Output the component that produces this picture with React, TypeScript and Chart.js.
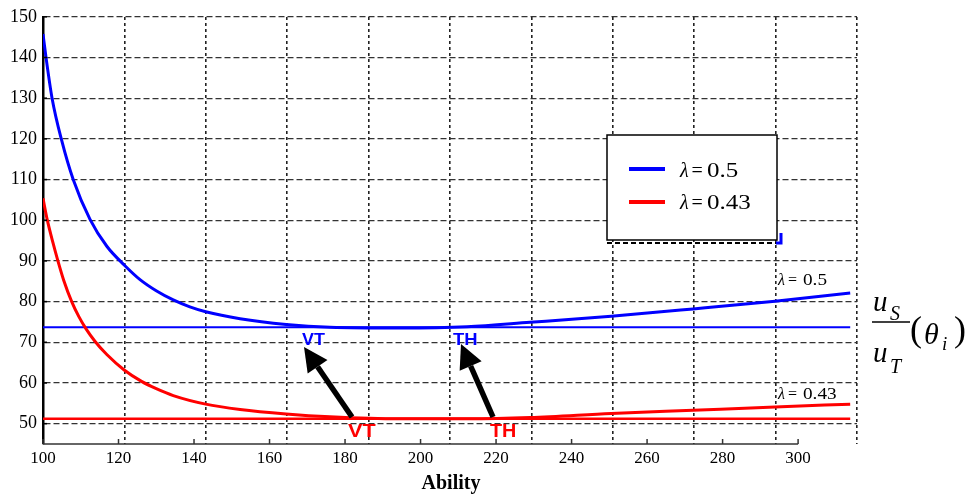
import React, { useEffect, useRef } from 'react';
import { Chart, registerables } from 'chart.js';

Chart.register(...registerables);

// ---- data ----
const abilityBlue = [100, 100.8, 102.4, 104.95, 108.0, 112.45, 116.9, 121.5, 125.7, 130.1, 134.5, 138.9, 143.1, 152.2, 164.4, 176.0, 194.6, 212.3, 229.0, 250.5, 272.2, 293.9, 313.8];
const ratioBlue = [145.8, 140, 130, 119.6, 110.0, 100.2, 93.6, 89.0, 85.4, 82.6, 80.4, 78.7, 77.5, 75.8, 74.4, 73.7, 73.5, 73.8, 74.9, 76.4, 78.2, 80.1, 82.1];
const abilityRed = [100, 101.1, 102.6, 103.8, 105.5, 107.6, 109.5, 111.4, 113.8, 116.9, 121.5, 126.1, 130.0, 134.5, 143.1, 152.2, 164.4, 176.0, 194.6, 212.3, 229.0, 250.5, 272.2, 293.9, 313.8];
const ratioRed = [105.4, 100.2, 94.6, 90.5, 85.2, 80.0, 76.3, 73.3, 70.2, 67.0, 63.2, 60.4, 58.6, 56.9, 54.8, 53.5, 52.4, 51.7, 51.2, 51.2, 51.5, 52.5, 53.3, 54.1, 54.8];
const minBlue = 73.7;
const minRed = 51.2;
const lineRange = [100, 313.8];
const xTickValues = [100, 120, 140, 160, 180, 200, 220, 240, 260, 280, 300];
const yTickValues = [50, 60, 70, 80, 90, 100, 110, 120, 130, 140, 150];
const lambdaValues = ['0.5', '0.43'];
const markerLabels = ['VT', 'TH'];
const xAxisTitle = 'Ability';

const BLUE = '#0000ff';
const RED = '#ff0000';
const SERIF = '"Liberation Serif", "Times New Roman", serif';
const SANS = '"Liberation Sans", Arial, sans-serif';

function drawLambda(ctx: CanvasRenderingContext2D, x: number, xEq: number, xNum: number, y: number, size: number, sx: number, num: string) {
  ctx.save();
  ctx.fillStyle = '#000';
  ctx.textBaseline = 'alphabetic';
  ctx.textAlign = 'left';
  ctx.font = `italic ${size}px ${SERIF}`;
  ctx.fillText('λ', x, y);
  ctx.font = `${size}px ${SERIF}`;
  ctx.fillText('=', xEq, y);
  ctx.save(); ctx.translate(xNum, y); ctx.scale(sx, 1); ctx.fillText(num, 0, 0); ctx.restore();
  ctx.restore();
}

function drawArrow(ctx: CanvasRenderingContext2D, x1: number, y1: number, x2: number, y2: number) {
  const ang = Math.atan2(y2 - y1, x2 - x1);
  const headLen = 24;
  const headHalf = 12;
  const bx = x2 - headLen * Math.cos(ang);
  const by = y2 - headLen * Math.sin(ang);
  ctx.save();
  ctx.strokeStyle = '#000';
  ctx.fillStyle = '#000';
  ctx.lineWidth = 5.5;
  ctx.beginPath();
  ctx.moveTo(x1, y1);
  ctx.lineTo(bx, by);
  ctx.stroke();
  ctx.beginPath();
  ctx.moveTo(x2, y2);
  ctx.lineTo(bx + headHalf * Math.sin(ang), by - headHalf * Math.cos(ang));
  ctx.lineTo(bx - headHalf * Math.sin(ang), by + headHalf * Math.cos(ang));
  ctx.closePath();
  ctx.fill();
  ctx.restore();
}

function drawBoldLabel(ctx: CanvasRenderingContext2D, text: string, x: number, y: number, size: number, sx: number, color: string) {
  ctx.save();
  ctx.fillStyle = color;
  ctx.font = `bold ${size}px ${SANS}`;
  ctx.textAlign = 'left';
  ctx.textBaseline = 'alphabetic';
  ctx.translate(x, y);
  ctx.scale(sx, 1);
  ctx.fillText(text, 0, 0);
  ctx.restore();
}

const overlayPlugin = {
  id: 'overlay',
  afterDraw(chart: any) {
    const ctx: CanvasRenderingContext2D = chart.ctx;
    const xs = chart.scales.x;
    const ys = chart.scales.y;
    const area = chart.chartArea;

    // x axis line + inward ticks
    ctx.save();
    ctx.strokeStyle = '#333';
    ctx.lineWidth = 1.5;
    ctx.beginPath();
    ctx.moveTo(xs.getPixelForValue(xTickValues[0]), area.bottom);
    ctx.lineTo(xs.getPixelForValue(xTickValues[xTickValues.length - 1]), area.bottom);
    ctx.stroke();
    xTickValues.forEach((v) => {
      const px = xs.getPixelForValue(v);
      ctx.beginPath();
      ctx.moveTo(px, area.bottom);
      ctx.lineTo(px, area.bottom - 5);
      ctx.stroke();
    });
    ctx.strokeStyle = '#000';
    yTickValues.forEach((v) => {
      const py = ys.getPixelForValue(v);
      ctx.beginPath();
      ctx.moveTo(area.left, py);
      ctx.lineTo(area.left + 4, py);
      ctx.stroke();
    });
    ctx.restore();

    // legend box
    ctx.save();
    ctx.fillStyle = '#fff';
    ctx.fillRect(607, 135, 170, 105);
    ctx.strokeStyle = '#000';
    ctx.lineWidth = 1.5;
    ctx.strokeRect(607, 135, 170, 105);
    ctx.setLineDash([5, 3]);
    ctx.lineWidth = 2;
    ctx.beginPath();
    ctx.moveTo(607, 243);
    ctx.lineTo(777, 243);
    ctx.stroke();
    ctx.setLineDash([]);
    ctx.strokeStyle = BLUE;
    ctx.lineWidth = 3;
    ctx.beginPath();
    ctx.moveTo(781, 233);
    ctx.lineTo(781, 243);
    ctx.lineTo(776, 243);
    ctx.stroke();
    const legendColors = [chart.data.datasets[0].borderColor, chart.data.datasets[1].borderColor];
    const rowY = [169, 202];
    const textY = [177, 209];
    legendColors.forEach((c: string, i: number) => {
      ctx.strokeStyle = c;
      ctx.lineWidth = 4;
      ctx.beginPath();
      ctx.moveTo(629, rowY[i]);
      ctx.lineTo(665, rowY[i]);
      ctx.stroke();
      drawLambda(ctx, 680, 691.5, 707, textY[i], 20, 1.25, lambdaValues[i]);
    });
    ctx.restore();

    // curve annotations
    drawLambda(ctx, 778, 788, 803, 285, 16, 1.2, lambdaValues[0]);
    drawLambda(ctx, 778, 788, 803, 399, 16, 1.2, lambdaValues[1]);

    // VT / TH labels
    drawBoldLabel(ctx, markerLabels[0], 302, 345, 16, 1.12, BLUE);
    drawBoldLabel(ctx, markerLabels[1], 453, 345, 16, 1.15, BLUE);
    drawBoldLabel(ctx, markerLabels[0], 348, 437, 18, 1.2, RED);
    drawBoldLabel(ctx, markerLabels[1], 490, 437, 18, 1.1, RED);

    // arrows
    drawArrow(ctx, 352, 417, 304, 347);
    drawArrow(ctx, 493, 417, 461, 344);

    // right-hand label  u_S / u_T (θ_i)
    ctx.save();
    ctx.fillStyle = '#000';
    ctx.textAlign = 'left';
    ctx.textBaseline = 'alphabetic';
    ctx.font = `italic 29px ${SERIF}`;
    ctx.fillText('u', 873, 311);
    ctx.fillText('u', 873, 362);
    ctx.font = `italic 20px ${SERIF}`;
    ctx.fillText('S', 890, 320);
    ctx.fillText('T', 890, 373);
    ctx.strokeStyle = '#000';
    ctx.lineWidth = 1.5;
    ctx.beginPath();
    ctx.moveTo(872, 322);
    ctx.lineTo(910, 322);
    ctx.stroke();
    ctx.font = `36px ${SERIF}`;
    ctx.fillText('(', 910, 341);
    ctx.fillText(')', 954, 341);
    ctx.font = `italic 30px ${SERIF}`;
    ctx.fillText('θ', 924, 344);
    ctx.font = `italic 19px ${SERIF}`;
    ctx.fillText('i', 942, 350);
    ctx.restore();

    // x axis title
    ctx.save();
    ctx.fillStyle = '#000';
    ctx.font = `bold 20px ${SERIF}`;
    ctx.textAlign = 'center';
    ctx.textBaseline = 'alphabetic';
    ctx.fillText(xAxisTitle, (area.left + area.right) / 2 + 1, 489);
    ctx.restore();
  },
};

export default function App() {
  const canvasRef = useRef<HTMLCanvasElement | null>(null);

  useEffect(() => {
    const canvas = canvasRef.current;
    if (!canvas) return;
    const toPts = (xs: number[], ys: number[]) => xs.map((x, i) => ({ x, y: ys[i] }));
    const chart = new Chart(canvas, {
      type: 'line',
      data: {
        datasets: [
          {
            label: 'λ = ' + lambdaValues[0],
            data: toPts(abilityBlue, ratioBlue),
            borderColor: BLUE,
            borderWidth: 3,
            pointRadius: 0,
            cubicInterpolationMode: 'monotone',
            xAxisID: 'x',
            yAxisID: 'y',
          },
          {
            label: 'λ = ' + lambdaValues[1],
            data: toPts(abilityRed, ratioRed),
            borderColor: RED,
            borderWidth: 3,
            pointRadius: 0,
            cubicInterpolationMode: 'monotone',
            xAxisID: 'x',
            yAxisID: 'y',
          },
          {
            label: 'min blue',
            data: toPts(lineRange, [minBlue, minBlue]),
            borderColor: BLUE,
            borderWidth: 2,
            pointRadius: 0,
            xAxisID: 'x',
            yAxisID: 'y',
          },
          {
            label: 'min red',
            data: toPts(lineRange, [minRed, minRed]),
            borderColor: RED,
            borderWidth: 2.5,
            pointRadius: 0,
            xAxisID: 'x',
            yAxisID: 'y',
          },
        ],
      },
      options: {
        responsive: false,
        animation: false,
        events: [],
        layout: { padding: { top: 16, right: 115, left: 0, bottom: 0 } },
        plugins: { legend: { display: false }, tooltip: { enabled: false }, title: { display: false } },
        scales: {
          x: {
            type: 'linear',
            position: 'bottom',
            min: 100,
            max: 315.6,
            grid: { display: false, drawTicks: false },
            border: { display: false },
            ticks: {
              stepSize: 20,
              padding: 4,
              color: '#000',
              font: { family: SERIF, size: 17 },
              maxRotation: 0,
              autoSkip: false,
            },
            afterBuildTicks: (s: any) => {
              s.ticks = xTickValues.map((v) => ({ value: v }));
            },
            afterFit: (s: any) => {
              s.height = 55;
            },
          },
          xg: {
            type: 'linear',
            position: 'top',
            min: 0,
            max: 10,
            ticks: { display: false, stepSize: 1 },
            grid: { display: true, drawTicks: false, color: '#222', lineWidth: 1.6 },
            border: { display: false, dash: [3, 3] },
            afterFit: (s: any) => {
              s.height = 0;
            },
          },
          y: {
            type: 'linear',
            min: 45,
            max: 150,
            grid: { display: true, drawTicks: false, color: '#333', lineWidth: 1.3 },
            border: { display: true, color: '#000', width: 2.5, dash: [6, 3] },
            ticks: {
              stepSize: 10,
              padding: 6,
              color: '#000',
              font: { family: SERIF, size: 18 },
            },
            afterBuildTicks: (s: any) => {
              s.ticks = yTickValues.map((v) => ({ value: v }));
            },
            afterFit: (s: any) => {
              s.width = 43;
            },
          },
        },
      } as any,
      plugins: [overlayPlugin],
    });
    return () => chart.destroy();
  }, []);

  return (
    <div style={{ position: 'absolute', left: 0, top: 0, width: 972, height: 499, background: '#fff' }}>
      <canvas ref={canvasRef} width={972} height={499} style={{ display: 'block' }} />
    </div>
  );
}
